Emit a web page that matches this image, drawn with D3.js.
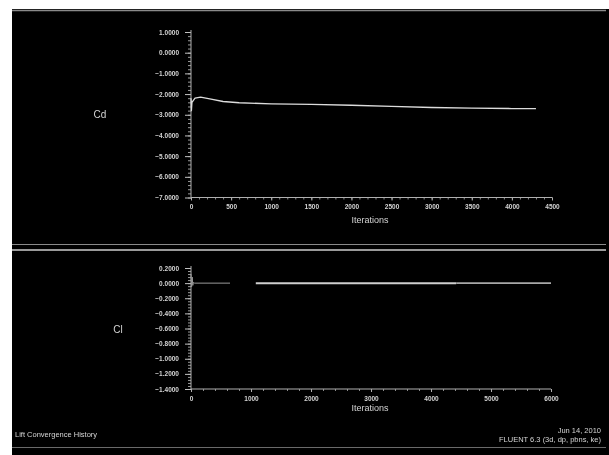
<!DOCTYPE html>
<html>
<head>
<meta charset="utf-8">
<script src="https://cdn.jsdelivr.net/npm/d3@7"></script>
<style>
  html, body { margin: 0; padding: 0; background: #fff; }
  svg { display: block; will-change: transform; }
  text { font-family: "Liberation Sans", Arial, sans-serif; fill: #d4d4d4; }
</style>
</head>
<body>
<svg id="chart" width="609" height="455"></svg>
<script>
// Drag coefficient history
const cdIter  = [0, 5, 12, 50, 120, 250, 400, 600, 1000, 1500, 2000, 2500, 3000, 3500, 4000, 4300];
const cdValue = [-2.2, -2.8, -2.4, -2.2, -2.15, -2.25, -2.36, -2.42, -2.47, -2.5, -2.54, -2.6, -2.65, -2.68, -2.7, -2.7];
const cdTicksY = [1, 0, -1, -2, -3, -4, -5, -6, -7];
const cdTicksX = [0, 500, 1000, 1500, 2000, 2500, 3000, 3500, 4000, 4500];

// Lift coefficient history (three recorded stretches)
const clStartIter  = [0, 10, 20, 30, 40, 60, 650];
const clStartValue = [0.12, -0.05, 0.08, -0.03, 0.01, 0.0, 0.0];
const clMidIter    = [1080, 4420];
const clMidValue   = [0.0, 0.0];
const clEndIter    = [4420, 6000];
const clEndValue   = [0.0, 0.0];
const clTicksY = [0.2, 0, -0.2, -0.4, -0.6, -0.8, -1.0, -1.2, -1.4];
const clTicksX = [0, 1000, 2000, 3000, 4000, 5000, 6000];

const svg = d3.select("#chart");
const fmt = d3.format(".4f");

// black canvas
svg.append("rect").attr("x", 12).attr("y", 9).attr("width", 597).attr("height", 446).attr("fill", "#000");

// frame / separator lines
const rule = (y, w, c) => svg.append("line").attr("x1", 12).attr("x2", 606).attr("y1", y).attr("y2", y)
  .attr("stroke", c).attr("stroke-width", w);
rule(10.5, 1.5, "#8a8a8a");
rule(244.5, 1, "#8a8a8a");
rule(250, 2, "#9a9a9a");
rule(447.5, 1, "#6a6a6a");

function panel(opts) {
  const x = d3.scaleLinear().domain(opts.xDomain).range([191, opts.xRight]);
  const y = d3.scaleLinear().domain(opts.yDomain).range([opts.yTop, opts.yBottom]);
  const g = svg.append("g");

  // y axis with minor ticks
  const yMinor = d3.range(opts.yDomain[1], opts.yDomain[0] + 1e-9, (opts.yDomain[0] - opts.yDomain[1]) / 40);
  const ya = g.append("g").attr("transform", "translate(191,0)")
    .call(d3.axisLeft(y).tickValues(yMinor).tickSize(3).tickFormat(""));
  ya.select(".domain").remove();
  ya.selectAll("line").attr("stroke", "#9a9a9a");
  const yb = g.append("g").attr("transform", "translate(191,0)")
    .call(d3.axisLeft(y).tickValues(opts.yTicks).tickSize(6).tickPadding(6).tickFormat(fmt));
  yb.select(".domain").remove();
  yb.selectAll("line").attr("stroke", "#c0c0c0");
  yb.selectAll("text").attr("font-size", 6.5).attr("font-weight", "bold").attr("fill", "#d0d0d0")
    .attr("font-family", "Liberation Sans, Arial, sans-serif");
  g.append("line").attr("x1", 191).attr("x2", 191).attr("y1", opts.yTop - 2).attr("y2", opts.yBottom)
    .attr("stroke", "#b0b0b0");

  // x axis
  const xStep = opts.xTicks[1] - opts.xTicks[0];
  const xMinor = d3.range(opts.xDomain[0], opts.xDomain[1] + 1e-9, xStep / 5);
  const xa = g.append("g").attr("transform", `translate(0,${opts.yBottom})`)
    .call(d3.axisBottom(x).tickValues(xMinor).tickSize(2).tickFormat(""));
  xa.select(".domain").remove();
  xa.selectAll("line").attr("stroke", "#8a8a8a");
  const xb = g.append("g").attr("transform", `translate(0,${opts.yBottom})`)
    .call(d3.axisBottom(x).tickValues(opts.xTicks).tickSize(3).tickPadding(4).tickFormat(d3.format("d")));
  xb.select(".domain").remove();
  xb.selectAll("line").attr("stroke", "#b0b0b0");
  xb.selectAll("text").attr("font-size", 6.5).attr("font-weight", "bold").attr("fill", "#d0d0d0")
    .attr("font-family", "Liberation Sans, Arial, sans-serif");
  g.append("line").attr("x1", 191).attr("x2", opts.xRight).attr("y1", opts.yBottom).attr("y2", opts.yBottom)
    .attr("stroke", "#b0b0b0");

  g.append("text").attr("x", 370).attr("y", opts.yBottom + opts.titleGap).attr("text-anchor", "middle")
    .attr("font-size", 9).text("Iterations");
  g.append("text").attr("x", opts.nameX).attr("y", opts.nameY).attr("text-anchor", "middle")
    .attr("font-size", 10).text(opts.name);

  const line = d3.line().x(d => x(d[0])).y(d => y(d[1]));
  opts.series.forEach(s => {
    g.append("path").datum(d3.zip(s.iter, s.value)).attr("d", line)
      .attr("fill", "none").attr("stroke", s.color).attr("stroke-width", s.width)
      .attr("stroke-linejoin", "round");
  });
}

panel({
  xDomain: [0, 4500], xRight: 552, yDomain: [1, -7], yTop: 32, yBottom: 197.5, titleGap: 25,
  yTicks: cdTicksY, xTicks: cdTicksX, name: "Cd", nameX: 100, nameY: 118,
  series: [{ iter: cdIter, value: cdValue, color: "#dcdcdc", width: 1.3 }]
});

panel({
  xDomain: [0, 6000], xRight: 551, yDomain: [0.2, -1.4], yTop: 268, yBottom: 389, titleGap: 22,
  yTicks: clTicksY, xTicks: clTicksX, name: "Cl", nameX: 118, nameY: 333,
  series: [
    { iter: clStartIter, value: clStartValue, color: "#9a9a9a", width: 1 },
    { iter: clMidIter, value: clMidValue, color: "#cfcfcf", width: 2 },
    { iter: clEndIter, value: clEndValue, color: "#a8a8a8", width: 1.6 }
  ]
});

// footer
svg.append("text").attr("x", 15).attr("y", 437).attr("font-size", 7.5).text("Lift Convergence History");
svg.append("text").attr("x", 601).attr("y", 433).attr("font-size", 7.5).attr("text-anchor", "end").text("Jun 14, 2010");
svg.append("text").attr("x", 601).attr("y", 442).attr("font-size", 7.5).attr("text-anchor", "end")
  .text("FLUENT 6.3 (3d, dp, pbns, ke)");
</script>
</body>
</html>
